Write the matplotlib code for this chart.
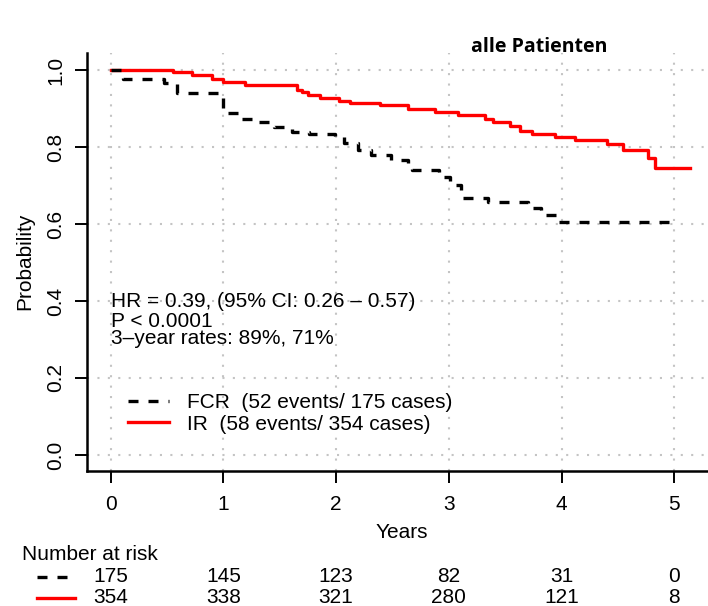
import matplotlib.pyplot as plt
import matplotlib.transforms as mtransforms
from matplotlib.lines import Line2D

plt.rcParams['font.family'] = ['Liberation Sans', 'DejaVu Sans']

# Kaplan-Meier steps: event time (years) and survival right after it
fcr_time = [0, 0.11, 0.47, 0.59, 1.00, 1.03, 1.16, 1.31, 1.45, 1.61, 1.76, 1.99,
            2.07, 2.19, 2.31, 2.49, 2.64, 2.67, 2.91, 3.01, 3.11, 3.35, 3.70,
            3.82, 3.96, 4.99]
fcr_surv = [1.0, 0.976, 0.966, 0.940, 0.896, 0.888, 0.872, 0.866, 0.853, 0.840,
            0.835, 0.829, 0.811, 0.792, 0.779, 0.766, 0.745, 0.740, 0.723, 0.701,
            0.667, 0.656, 0.641, 0.623, 0.604, 0.604]

ir_time = [0, 0.55, 0.72, 0.90, 1.00, 1.19, 1.65, 1.70, 1.75, 1.86, 2.03, 2.12,
           2.39, 2.64, 2.88, 3.08, 3.32, 3.39, 3.54, 3.63, 3.74, 3.94, 4.12,
           4.40, 4.55, 4.77, 4.83, 5.14]
ir_surv = [1.0, 0.994, 0.987, 0.978, 0.968, 0.961, 0.948, 0.942, 0.935, 0.927,
           0.920, 0.915, 0.909, 0.900, 0.892, 0.883, 0.874, 0.866, 0.855, 0.842,
           0.833, 0.825, 0.817, 0.807, 0.792, 0.771, 0.745, 0.745]

risk_times = [0, 1, 2, 3, 4, 5]
fcr_at_risk = [175, 145, 123, 82, 31, 0]
ir_at_risk = [354, 338, 321, 280, 121, 8]

prob_ticks = [0, 0.2, 0.4, 0.6, 0.8, 1.0]
prob_labels = ["0.0", "0.2", "0.4", "0.6", "0.8", "1.0"]

fcr_label = "FCR  (52 events/ 175 cases)"
ir_label = "IR  (58 events/ 354 cases)"
stats_lines = ["HR = 0.39, (95% CI: 0.26 \u2013 0.57)",
               "P < 0.0001",
               "3\u2013year rates: 89%, 71%"]
stats_y = [0.3836, 0.3317, 0.2883]

fs = 15
lw = 2.4
dash = (0, (3.0, 3.0))

W, H = 708, 606
fig = plt.figure(figsize=(W / 100, H / 100), dpi=100)
ax = fig.add_axes([0.1233, 0.2233, 0.8767, 0.6887])
ax.set_xlim(-0.208, 5.3)
ax.set_ylim(-0.0408, 1.0434)

for side in ['top', 'right']:
    ax.spines[side].set_visible(False)
for side in ['left', 'bottom']:
    ax.spines[side].set_linewidth(1.8)

ax.set_axisbelow(True)
ax.grid(True, color='#c4c4c4', linestyle=(0, (1, 4)), linewidth=1.5)

ax.set_xticks(risk_times)
ax.set_yticks(prob_ticks)
ax.set_yticklabels([])
ax.tick_params(direction='out', length=8.6, width=1.4, labelsize=fs, pad=9)

# rotated y tick labels, R style
trans_y = mtransforms.blended_transform_factory(fig.transFigure, ax.transData)
for v, s in zip(prob_ticks, prob_labels):
    ax.text(56 / W, v, s, transform=trans_y, rotation=90, fontsize=fs,
            ha='center', va='center')

ir_line, = ax.step(ir_time, ir_surv, where='post', color='red', lw=lw,
                   label=ir_label)
fcr_line, = ax.step(fcr_time, fcr_surv, where='post', color='black', lw=lw,
                    linestyle=dash, label=fcr_label)

ax.legend(handles=[fcr_line, ir_line], loc='upper left',
          bbox_to_anchor=(0.0656, 0.185), frameon=False, fontsize=fs,
          handlelength=1.95, handletextpad=0.9, labelspacing=0.1,
          borderpad=0, borderaxespad=0)

for line, y in zip(stats_lines, stats_y):
    ax.text(0, y, line, fontsize=fs, ha='left', va='baseline')

fig.text(25 / W, 1 - 261 / H, "Probability", rotation=90, fontsize=fs,
         ha='center', va='center')
fig.text(402 / W, 1 - 533 / H, "Years", fontsize=fs, ha='center', va='center')
fig.text(539 / W, 1 - 51.7 / H, "alle Patienten", fontsize=14,
         fontweight='bold', family=['Open Sans', 'DejaVu Sans'],
         ha='center', va='baseline')

# number-at-risk table under the x axis
fig.text(21.7 / W, 1 - 555 / H, "Number at risk", fontsize=fs,
         ha='left', va='center')
trans = mtransforms.blended_transform_factory(ax.transData, fig.transFigure)
row_y = [1 - 577 / H, 1 - 597.5 / H]
for t, n in zip(risk_times, fcr_at_risk):
    ax.text(t, row_y[0], str(n), transform=trans, fontsize=fs,
            ha='center', va='center')
for t, n in zip(risk_times, ir_at_risk):
    ax.text(t, row_y[1], str(n), transform=trans, fontsize=fs,
            ha='center', va='center')
fig.add_artist(Line2D([36.7 / W, 68 / W], [row_y[0], row_y[0]],
                      color='black', lw=lw, linestyle=dash))
fig.add_artist(Line2D([36.7 / W, 75 / W], [row_y[1], row_y[1]],
                      color='red', lw=lw))

fig.savefig("out.png", dpi=100)
